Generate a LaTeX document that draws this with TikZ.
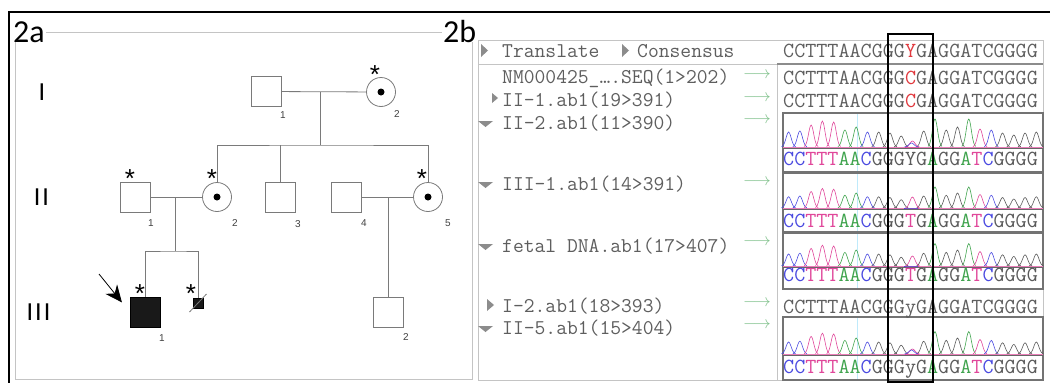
\documentclass[tikz,border=0pt]{standalone}
\usepackage{fontspec}
\newfontfamily\labfont{Carlito}
\newfontfamily\numfont{Liberation Sans}
\usetikzlibrary{positioning,calc}
\usetikzlibrary{arrows.meta}

\definecolor{pedgray}{HTML}{7A7A7A}
\definecolor{boxgray}{HTML}{C4C4C4}
\definecolor{txtgray}{HTML}{5E5E5E}
\definecolor{seqred}{HTML}{E0393E}
\definecolor{tA}{HTML}{3FA34D}
\definecolor{tC}{HTML}{4A4AE0}
\definecolor{tT}{HTML}{E0479A}
\definecolor{tG}{HTML}{5A5A5A}
\definecolor{arrgreen}{HTML}{7FC08A}

\tikzset{
  pedline/.style={draw=pedgray, line width=0.8pt},
  male/.style={draw=pedgray, line width=0.8pt, minimum size=30pt, inner sep=0pt, fill=white},
  carrier/.style={draw=pedgray, line width=0.8pt, circle, minimum size=29pt, inner sep=0pt, fill=white,
    path picture={\fill[black] (path picture bounding box.center) circle (3.5pt);}},
  affected/.style={male, draw=black, fill=black!90},
  astk/.style={font=\numfont\fontsize{26}{26}\selectfont, anchor=base, inner sep=0pt, yshift=-15pt},
  numlab/.style={font=\numfont\fontsize{10}{10}\selectfont, text=black!75, inner sep=0pt},
  genlab/.style={font=\labfont\fontsize{26}{26}\selectfont, inner sep=0pt},
  panlab/.style={font=\labfont\fontsize{32}{32}\selectfont, anchor=base west, inner xsep=1pt, inner ysep=0pt, fill=white},
  boxline/.style={draw=boxgray, line width=0.8pt},
  chrombox/.style={draw=black!55, line width=1.2pt},
  coltxt/.style={font=\ttfamily\fontsize{21}{22}\selectfont, text=txtgray, anchor=base west, inner sep=0pt},
  seqtxt/.style={font=\ttfamily\fontsize{21.5}{22}\selectfont, text=txtgray, anchor=base west, inner sep=0pt},
  garr/.style={font=\fontsize{17}{17}\selectfont, text=arrgreen, inner sep=0pt},
  trigray/.style={fill=black!45},
  proband/.style={draw=black, line width=0.8pt, -{Stealth[length=17pt,width=15pt]}},
}

% colour each base of a read
\def\basecol#1{\if#1A\textcolor{tA}{A}\else\if#1C\textcolor{tC}{C}\else\if#1T\textcolor{tT}{T}\else\textcolor{tG}{#1}\fi\fi\fi}
\def\colseqi#1{\ifx#1\relax\else\basecol#1\expandafter\colseqi\fi}
\newcommand\colseq[1]{\colseqi#1\relax}

% one trace: baseline, scale, T and C height at the variant
\newcommand\trace[4]{%
  \draw[tT!70, line width=0.5pt] (783,#1) -- (1043,#1);
  \draw[black!60, line width=0.4pt] (783,#1+1) -- (1043,#1+1);
  \foreach \b/\h [count=\i from 0] in {C/15,C/16,T/22,T/26,T/25,A/17,A/20,C/15,G/15,G/14,G/11,T/0,G/16,A/28,G/17,G/20,A/28,T/18,C/17,G/14,G/12,G/14,G/15}
    \draw[draw=t\b, line width=0.6pt] plot[domain=-7:7, samples=15, smooth]
      ({788.6+11.26*\i+\x}, {#1-#2*\h*exp(-\x*\x/13)});
  \draw[draw=tT, line width=0.6pt] plot[domain=-7:7, samples=15, smooth]
    ({788.6+11.26*11+\x}, {#1-#3*exp(-\x*\x/13)});
  \draw[draw=tC, line width=0.6pt] plot[domain=-7:7, samples=15, smooth]
    ({788.6+11.26*11-1+\x}, {#1-#4*exp(-\x*\x/13)});
}

\begin{document}
\begin{tikzpicture}[x=1pt,y=-1pt]
  \useasboundingbox (0,0) rectangle (1050,383);

  % frames
  \draw[line width=2pt] (9,383) -- (9,12) -- (1050,12);
  \draw[boxline] (15,32) rectangle (472,379);
  \draw[boxline] (478,40) rectangle (1043,380);
  \draw[boxline] (478,64) -- (777,64);
  \draw[boxline] (777,64) -- (777,380);
  \draw[draw=black!45, line width=1.5pt] (777,64) -- (1043,64);

  \node[panlab] (pa) at (12,42) {2a};
  \node[panlab] (pb) at (442,42) {2b};

  % pedigree
  \node[genlab] (g1) at (42,92) {I};
  \node[genlab] (g2) at (41.5,197) {I\kern2pt I};
  \node[genlab] (g3) at (38.5,312) {I\kern2pt I\kern2pt I};

  \node[male] (a1) at (266.5,91.5) {};
  \node[carrier] (a2) at (381,92) {};
  \coordinate (m1) at (320,92);
  \coordinate (s1) at (320,145);

  \node[male] (b1) at (135.5,197) {};
  \node[carrier] (b2) at (217,197) {};
  \node[male] (b3) at (280.5,197) {};
  \node[male] (b4) at (346.5,197) {};
  \node[carrier] (b5) at (428,197) {};
  \coordinate (m2) at (175,197);
  \coordinate (s2) at (175,251);

  \node[affected] (c1) at (145.5,312.5) {};
  \node[affected, minimum size=10pt] (c2) at (198.5,303) {};
  \node[male] (c3) at (388,312.5) {};
  \coordinate (m3) at (b4 -| c3);

  \draw[pedline] (a1) -- (a2);
  \draw[pedline] (m1) -- (s1);
  \draw[pedline] (b2) |- (s1) -| (b5);
  \draw[pedline] (b3) -- (b3 |- s1);
  \draw[pedline] (b1) -- (b2);
  \draw[pedline] (m2) -- (s2);
  \draw[pedline] (c1) |- (s2) -| (c2);
  \draw[pedline] (b4) -- (b5);
  \draw[pedline] (m3) -- (c3);
  \draw[pedline] ($(c2)+(-9,9)$) -- ($(c2)+(8,-9)$);

  \coordinate (pr) at (99,274);
  \draw[proband, shorten >=13pt] (pr) -- (c1.west);

  \node[astk] (a2s) at (375,68) {*};
  \node[astk] (b1s) at (130,172) {*};
  \node[astk] (b2s) at (212,172) {*};
  \node[astk] (b5s) at (422,172) {*};
  \node[astk] (c1s) at (140,287) {*};
  \node[astk] (c2s) at (191,287) {*};

  \node[numlab] (a1n) at (283,115) {1};
  \node[numlab] (a2n) at (397,114) {2};
  \node[numlab] (b1n) at (151,223) {1};
  \node[numlab] (b2n) at (235,223) {2};
  \node[numlab] (b3n) at (298,224) {3};
  \node[numlab] (b4n) at (364,223) {4};
  \node[numlab] (b5n) at (448,223) {5};
  \node[numlab] (c1n) at (162,338) {1};
  \node[numlab] (c3n) at (406,337) {2};

  % sequence panel
  \fill[trigray] (481,44) -- (488,50.5) -- (481,57) -- cycle;
  \fill[trigray] (622,44) -- (629,50.5) -- (622,57) -- cycle;
  \fill[trigray] (492,93) -- (498,98) -- (492,103) -- cycle;
  \fill[trigray] (487,299) -- (494,305) -- (487,311) -- cycle;
  \foreach \yb in {129,190,252,334}
    \fill[trigray] (478,\yb-8) -- (493,\yb-8) -- (485.5,\yb-2) -- cycle;

  \node[coltxt] (tr) at (502,57) {Translate};
  \node[coltxt] (co) at (637,57) {Consensus};
  \node[coltxt] (nm) at (502,83) {NM000425\_\ldots.SEQ(1>202)};
  \node[coltxt] (r1) at (502,106) {II-1.ab1(19>391)};
  \node[coltxt] (r2) at (502,129) {II-2.ab1(11>390)};
  \node[coltxt] (r3) at (502,190) {III-1.ab1(14>391)};
  \node[coltxt] (r4) at (502,252) {fetal DNA.ab1(17>407)};
  \node[coltxt] (r5) at (502,312) {I-2.ab1(18>393)};
  \node[coltxt] (r6) at (502,334) {II-5.ab1(15>404)};

  \foreach \n/\y in {1/75,2/98,3/120,4/182,5/242,6/303,7/325}
    \node[garr] (ga\n) at (757,\y) {$\longrightarrow$};

  \foreach \t/\b in {113/172,173/232,233/289,317/380}{
    \draw[cyan!25, line width=0.6pt] (857,\t) -- (857,\b);
    \draw[chrombox] (783,\t) rectangle (1043,\b);
  }
  \trace{147}{1}{6}{4}
  \trace{208}{0.75}{11}{0}
  \trace{266}{0.8}{10}{0}
  \trace{354}{0.8}{5}{4}

  \node[seqtxt] (s0) at (783,57) {CCTTTAACGGG\textcolor{seqred}{Y}GAGGATCGGGG};
  \node[seqtxt] (s1) at (783,84) {CCTTTAACGGG\textcolor{seqred}{C}GAGGATCGGGG};
  \node[seqtxt] (s2) at (783,107) {CCTTTAACGGG\textcolor{seqred}{C}GAGGATCGGGG};
  \node[seqtxt] (s3) at (783,165) {\colseq{CCTTTAACGGGYGAGGATCGGGG}};
  \node[seqtxt] (s4) at (783,227) {\colseq{CCTTTAACGGGTGAGGATCGGGG}};
  \node[seqtxt] (s5) at (783,281) {\colseq{CCTTTAACGGGTGAGGATCGGGG}};
  \node[seqtxt] (s6) at (783,313) {CCTTTAACGGGyGAGGATCGGGG};
  \node[seqtxt] (s7) at (783,373) {\colseq{CCTTTAACGGGyGAGGATCGGGG}};

  \draw[line width=1.6pt] (888,34) rectangle (933,382);
\end{tikzpicture}
\end{document}
